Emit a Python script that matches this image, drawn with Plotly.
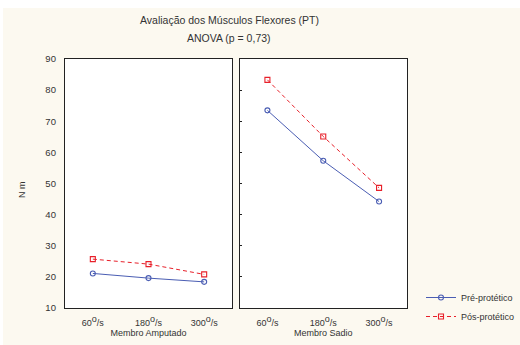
import plotly.graph_objects as go

categories = ["60<sup><span style='font-size:9px'>o</span></sup>/s",
              "180<sup><span style='font-size:9px'>o</span></sup>/s",
              "300<sup><span style='font-size:9px'>o</span></sup>/s"]
panels = ["Membro Amputado", "Membro Sadio"]
pre_amputado = [21.1, 19.6, 18.4]
pos_amputado = [25.7, 24.1, 20.8]
pre_sadio = [73.5, 57.3, 44.2]
pos_sadio = [83.3, 65.1, 48.6]
y_ticks = [10, 20, 30, 40, 50, 60, 70, 80, 90]

BLUE = "#4a5db3"
RED = "#e8202a"
CREAM = "#fcf9f0"
TXT = "#333333"
FONT = "Liberation Sans, Arial, sans-serif"

xs = [0, 1, 2]
fig = go.Figure()
series = [
    ("Pré-protético", pre_amputado, pre_sadio, BLUE, "solid", "circle-open"),
    ("Pós-protético", pos_amputado, pos_sadio, RED, "4px,3px", "square-open"),
]
for name, a, s, col, dash, sym in series:
    for i, (vals, xa, ya) in enumerate([(a, "x", "y"), (s, "x2", "y2")]):
        fig.add_trace(go.Scatter(
            x=xs, y=vals, xaxis=xa, yaxis=ya, name=name,
            mode="lines+markers", showlegend=(i == 0),
            line=dict(color=col, width=1, dash=dash),
            marker=dict(symbol=sym, size=5, color=col, line=dict(width=1.1, color=col)),
        ))

W, H = 520, 345
L, R, T, B = 65, 113, 59, 37
pw = W - L - R
ph = H - T - B

axis_common = dict(
    showgrid=False, zeroline=False, showline=True, mirror=True,
    linecolor="#222222", linewidth=1.3, automargin=False,
)
xax = dict(axis_common, range=[-0.5, 2.5], tickmode="array", tickvals=xs,
           ticktext=categories, ticks="", ticklabelstandoff=6,
           tickfont=dict(size=9, color=TXT, family=FONT),
           title=dict(font=dict(size=9, color=TXT, family=FONT), standoff=1))
fig.update_layout(
    width=W, height=H,
    margin=dict(l=L, r=R, t=T, b=B, autoexpand=False),
    paper_bgcolor=CREAM, plot_bgcolor="white",
    font=dict(family=FONT, color=TXT, size=9),
    xaxis=dict(xax, domain=[0, (232 - L) / pw], title=dict(xax["title"], text=panels[0])),
    xaxis2=dict(xax, domain=[(239.5 - L) / pw, 1], anchor="y2", title=dict(xax["title"], text=panels[1])),
    yaxis=dict(axis_common, range=[10, 90], tickvals=y_ticks, ticks="",
               ticklabelstandoff=6, tickfont=dict(size=9.5, color=TXT, family=FONT)),
    yaxis2=dict(axis_common, range=[10, 90], tickvals=y_ticks, anchor="x2",
                ticks="inside", ticklen=2, tickcolor="#222", showticklabels=False),
    legend=dict(x=(421 - L) / pw, y=(308 - 283) / ph, xanchor="left", yanchor="top",
                bgcolor="rgba(0,0,0,0)", font=dict(size=9, color=TXT, family=FONT),
                tracegroupgap=0, itemwidth=30),
    showlegend=True,
)
fig.add_annotation(text="Avaliação dos Músculos Flexores (PT)", xref="paper", yref="paper",
                   x=(229 - L) / pw, y=(308 - 20) / ph, showarrow=False,
                   font=dict(size=10.5, color=TXT, family=FONT), xanchor="center", yanchor="middle")
fig.add_annotation(text="ANOVA (p = 0,73)", xref="paper", yref="paper",
                   x=(229 - L) / pw, y=(308 - 38) / ph, showarrow=False,
                   font=dict(size=10.5, color=TXT, family=FONT), xanchor="center", yanchor="middle")
fig.add_annotation(text="N m", xref="paper", yref="paper", textangle=-90,
                   x=(22 - L) / pw, y=(308 - 190) / ph, showarrow=False,
                   font=dict(size=9, color=TXT, family=FONT), xanchor="center", yanchor="middle")
# white strips at the top and left edges outside the cream area
fig.add_shape(type="rect", xref="paper", yref="paper", x0=(0 - L) / pw, x1=(W - L) / pw,
              y0=(308 - 8) / ph, y1=(308 - 0) / ph, fillcolor="white", line=dict(width=0), layer="below")
fig.add_shape(type="rect", xref="paper", yref="paper", x0=(0 - L) / pw, x1=(3 - L) / pw,
              y0=(308 - H) / ph, y1=(308 - 0) / ph, fillcolor="white", line=dict(width=0), layer="below")

fig.write_html("out.html", config={"displayModeBar": False},
               post_script="document.body.style.margin='0';document.body.style.overflow='hidden';")
